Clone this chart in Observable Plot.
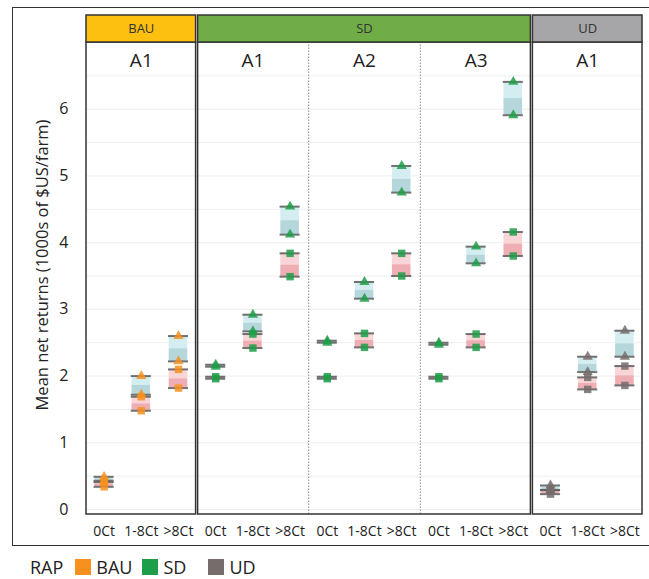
<!DOCTYPE html>
<html><head><meta charset="utf-8">
<script src="https://cdn.jsdelivr.net/npm/d3@7"></script>
<script src="https://cdn.jsdelivr.net/npm/@observablehq/plot@0.6"></script>
<style>
body{margin:0;background:#fff;font-family:"Open Sans",sans-serif;}
#wrap{position:relative;width:649px;height:579px;overflow:hidden;}
#frame{position:absolute;left:12px;top:7px;width:700px;height:539px;border:1.5px solid #333;box-sizing:border-box;}
#chart{position:absolute;left:0;top:0;}
#legend{position:absolute;left:30px;top:556px;display:flex;align-items:center;font-size:18px;color:#222;line-height:20px;height:21px;}
#legend .sw{display:inline-block;width:16px;height:16px;margin:0 5px 0 0;}
#legend .it{display:flex;align-items:center;margin-right:10px;}
</style></head><body>
<div id="wrap"><div id="frame"></div><div id="chart"></div><div id="legend"></div></div>
<script>
// ---- data ----
const groupNames = ["BAU", "SD", "UD"];
const groupColors = ["#FDBF10", "#70AD47", "#A6A6A8"];
const markerColors = ["#F7901E", "#1E9E48", "#766C6C"];
const panelGroup = ["BAU", "SD", "SD", "SD", "UD"];
const panelNames = ["A1", "A1", "A2", "A3", "A1"];
const categories = ["0Ct", "1-8Ct", ">8Ct"];
// blue boxes (triangle markers)
const triHigh = [[0.49, 2.00, 2.60], [2.17, 2.92, 4.54], [2.53, 3.41, 5.15], [2.50, 3.94, 6.41], [0.36, 2.29, 2.68]];
const triLow  = [[0.43, 1.72, 2.22], [2.14, 2.67, 4.12], [2.50, 3.16, 4.75], [2.47, 3.69, 5.91], [0.29, 2.06, 2.29]];
// pink boxes (square markers)
const sqHigh  = [[0.41, 1.69, 2.10], [1.99, 2.63, 3.84], [1.99, 2.64, 3.84], [1.99, 2.63, 4.16], [0.29, 1.98, 2.15]];
const sqLow   = [[0.34, 1.48, 1.82], [1.96, 2.42, 3.49], [1.96, 2.43, 3.50], [1.96, 2.43, 3.80], [0.23, 1.80, 1.86]];
const yTicks = [0, 1, 2, 3, 4, 5, 6];
const yLabel = "Mean net returns (1000s of $US/farm)";
const legendTitle = "RAP";

// ---- derived tables ----
const rows = [];
panelNames.forEach((pn, p) => {
  categories.forEach((c, ci) => {
    rows.push({
      idx: p * 3 + ci, group: panelGroup[p],
      tH: triHigh[p][ci], tL: triLow[p][ci],
      sH: sqHigh[p][ci], sL: sqLow[p][ci]
    });
  });
});
const mcol = g => markerColors[groupNames.indexOf(g)];
const groups = groupNames.map((g, gi) => {
  const ps = panelGroup.map((d, i) => d === g ? i : -1).filter(i => i >= 0);
  return {name: g, color: groupColors[gi], p0: ps[0], p1: ps[ps.length - 1]};
});
const dividers = [];
panelGroup.forEach((g, i) => { if (i > 0 && panelGroup[i - 1] === g) dividers.push(i * 3 - 0.5); });
const panels = panelNames.map((n, p) => ({name: n, x: p * 3 + 1}));

const Y0 = -0.075, YTOP = 7.0, YHEAD = 7.405, HW = 0.25;
const boxPart = (lo, hi, fill) => Plot.rect(rows, {
  x1: d => d.idx - HW, x2: d => d.idx + HW, y1: lo, y2: hi, fill
});
const edge = (key) => Plot.ruleY(rows, {x1: d => d.idx - HW - 0.02, x2: d => d.idx + HW + 0.02, y: key, stroke: "#5a5a5a", strokeWidth: 2, strokeOpacity: 0.85});
const markers = (key, symbol, r) => Plot.dot(rows, {x: "idx", y: key, symbol, r, fill: d => mcol(d.group), fillOpacity: 0.85, stroke: "none"});

const chart = Plot.plot({
  width: 649, height: 549,
  marginLeft: 85, marginRight: 6, marginTop: 15, marginBottom: 35,
  style: {fontFamily: "Open Sans", background: "transparent", color: "#222"},
  x: {type: "linear", domain: [-0.5, rows.length - 0.5], axis: null},
  y: {domain: [Y0, YHEAD], axis: null},
  marks: [
    Plot.ruleY(d3.range(0, 6.51, 0.5), {stroke: "#eeeeee", strokeWidth: 1}),
    boxPart(d => (d.tL + d.tH) / 2, "tH", "#d3edf1"),
    boxPart("tL", d => (d.tL + d.tH) / 2, "#b5d7dc"),
    boxPart(d => (d.sL + d.sH) / 2, "sH", "#f9d5d8"),
    boxPart("sL", d => (d.sL + d.sH) / 2, "#eeaeb3"),
    edge("tH"), edge("tL"), edge("sH"), edge("sL"),
    markers("tH", "triangle", 3.8), markers("tL", "triangle", 3.8),
    markers("sH", "square", 4.2), markers("sL", "square", 4.2),
    Plot.ruleX(dividers, {y1: Y0, y2: YTOP, stroke: "#8a8a8a", strokeWidth: 1, strokeDasharray: "1.5,1.5"}),
    Plot.rect(groups, {x1: d => d.p0 * 3 - 0.5, x2: d => d.p1 * 3 + 2.5, y1: Y0, y2: YTOP, fill: "none", stroke: "#333", strokeWidth: 1.5, insetLeft: 1, insetRight: 1}),
    Plot.rect(groups, {x1: d => d.p0 * 3 - 0.5, x2: d => d.p1 * 3 + 2.5, y1: YTOP, y2: YHEAD, fill: "color", stroke: "#333", strokeWidth: 1.5, insetLeft: 1, insetRight: 1}),
    Plot.text(groups, {x: d => (d.p0 * 3 - 0.5 + d.p1 * 3 + 2.5) / 2, y: (YTOP + YHEAD) / 2, text: "name", fontSize: 13, fill: "#333"}),
    Plot.text(panels, {x: "x", y: 6.72, text: "name", fontSize: 19, fill: "#222"}),
    Plot.axisX({ticks: d3.range(rows.length), tickFormat: i => categories[i % 3], tickSize: 0, tickPadding: 12, fontSize: 14, label: null}),
    Plot.axisY({ticks: yTicks, tickSize: 0, tickPadding: 17, fontSize: 16, label: null}),
    Plot.text([yLabel], {frameAnchor: "left", textAnchor: "middle", text: d => d, rotate: -90, dx: -43, fontSize: 16.5, fill: "#222"})
  ]
});
document.getElementById("chart").appendChild(chart);

const leg = document.getElementById("legend");
const t = document.createElement("span"); t.textContent = legendTitle; t.style.marginRight = "12px"; leg.appendChild(t);
groupNames.forEach((g, i) => {
  const it = document.createElement("span"); it.className = "it";
  it.innerHTML = `<span class="sw" style="background:${markerColors[i]}"></span><span>${g}</span>`;
  if (i === 1) it.style.marginRight = "22px";
  leg.appendChild(it);
});
</script>
</body></html>
